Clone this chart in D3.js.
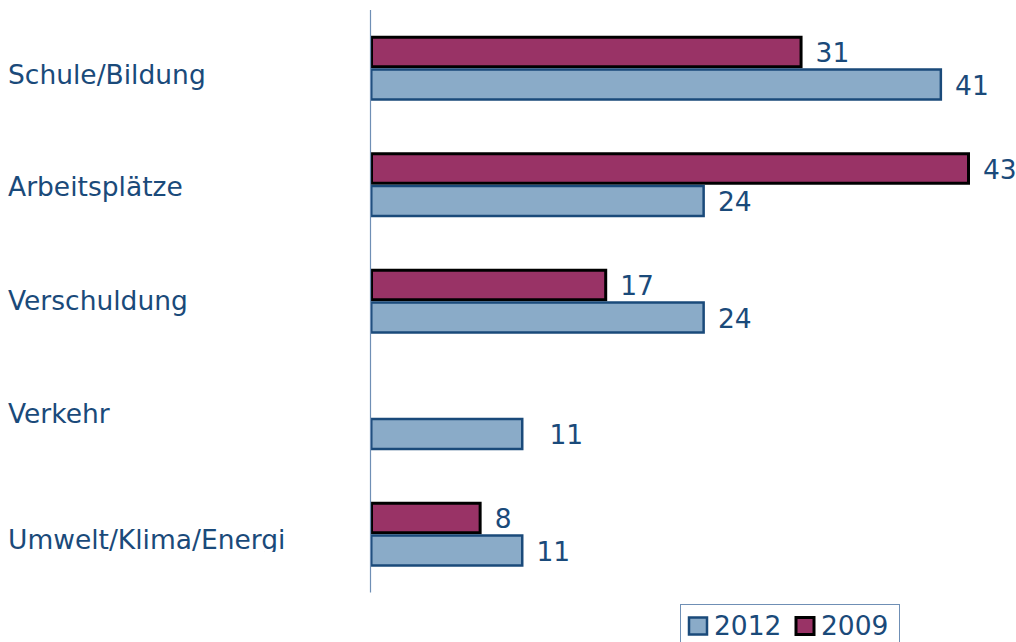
<!DOCTYPE html>
<html>
<head>
<meta charset="utf-8">
<script src="https://cdn.jsdelivr.net/npm/d3@7"></script>
<style>
  html, body { margin: 0; padding: 0; background: #fff; }
  svg { display: block; }
  text { font-family: "DejaVu Sans", Verdana, sans-serif; }
</style>
</head>
<body>
<svg id="chart" width="1016" height="642"></svg>
<script>
// Themen, Anteile in Prozent
const categories = ["Schule/Bildung", "Arbeitsplätze", "Verschuldung", "Verkehr", "Umwelt/Klima/Energi"];
const series = ["2009", "2012"];
const values2009 = [31, 43, 17, null, 8];
const values2012 = [41, 24, 24, 11, 11];
const legendLabels = ["2012", "2009"];

const colors = {
  "2009": { fill: "#993366", stroke: "#000000", width: 3 },
  "2012": { fill: "#8aabc8", stroke: "#1a4a7a", width: 2.5 }
};
const textColor = "#1a4a7a";

const svg = d3.select("#chart");

const x = d3.scaleLinear()
  .domain([0, d3.max(values2009.concat(values2012))])
  .range([370, 970]);

const y = d3.scaleBand()
  .domain(categories)
  .range([10, 592.5])
  .padding(0);

const barH = 32.5;
const sub = d3.scaleBand()
  .domain(series)
  .range([y.bandwidth() / 2 - barH, y.bandwidth() / 2 + barH]);

const rows = [];
categories.forEach((c, i) => {
  rows.push({ cat: c, s: "2009", v: values2009[i] });
  rows.push({ cat: c, s: "2012", v: values2012[i] });
});
const present = rows.filter(d => d.v != null);

// bars
svg.append("g").selectAll("rect")
  .data(present)
  .join("rect")
  .attr("x", d => x(0) + colors[d.s].width / 2)
  .attr("y", d => y(d.cat) + sub(d.s) + colors[d.s].width / 2)
  .attr("width", d => x(d.v) - x(0) - colors[d.s].width)
  .attr("height", d => sub.bandwidth() - colors[d.s].width)
  .attr("fill", d => colors[d.s].fill)
  .attr("stroke", d => colors[d.s].stroke)
  .attr("stroke-width", d => colors[d.s].width);

// value labels
svg.append("g").selectAll("text")
  .data(present)
  .join("text")
  .attr("x", d => x(d.v) + (d.cat === "Verkehr" ? 26 : 13))
  .attr("y", d => y(d.cat) + sub(d.s) + sub.bandwidth() / 2 + 10)
  .attr("fill", textColor)
  .attr("font-size", 26.5)
  .text(d => d.v);

// vertical category axis line
svg.append("line")
  .attr("x1", x(0) + 0.5).attr("x2", x(0) + 0.5)
  .attr("y1", y.range()[0]).attr("y2", y.range()[1])
  .attr("stroke", "#6f8fb5")
  .attr("stroke-width", 1.2);

// category labels (clipped to the label area)
svg.append("clipPath").attr("id", "labelClip")
  .append("rect").attr("x", 0).attr("y", 0).attr("width", 360).attr("height", 552);

const labelShift = [16, 11, 9, 5, 15];
svg.append("g").attr("clip-path", "url(#labelClip)")
  .selectAll("text")
  .data(categories)
  .join("text")
  .attr("x", 8)
  .attr("y", (d, i) => y(d) + y.bandwidth() / 2 + labelShift[i])
  .attr("fill", textColor)
  .attr("font-size", 26.5)
  .text(d => d);

// legend
const legend = svg.append("g");
legend.append("rect")
  .attr("x", 680.5).attr("y", 604.5)
  .attr("width", 219).attr("height", 50)
  .attr("fill", "#fff")
  .attr("stroke", "#6f8fb5")
  .attr("stroke-width", 1);

const legX = [689, 796];
legendLabels.forEach((s, i) => {
  legend.append("rect")
    .attr("x", legX[i]).attr("y", 617.5)
    .attr("width", 18).attr("height", 17)
    .attr("fill", colors[s].fill)
    .attr("stroke", colors[s].stroke)
    .attr("stroke-width", colors[s].width);
  legend.append("text")
    .attr("x", legX[i] + 25).attr("y", 635)
    .attr("fill", textColor)
    .attr("font-size", 26.5)
    .text(s);
});
</script>
</body>
</html>
